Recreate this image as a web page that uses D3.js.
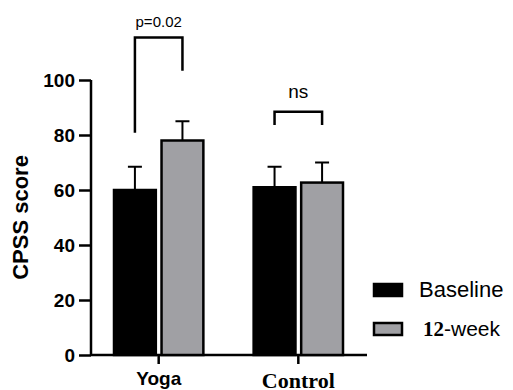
<!DOCTYPE html>
<html>
<head>
<meta charset="utf-8">
<script src="https://cdn.jsdelivr.net/npm/d3@7"></script>
<style>
  body { margin: 0; background: #fff; }
</style>
</head>
<body>
<div id="chart-area"></div>
<script>
// data
const groups = ["Yoga", "Control"]
const seriesNames = ["Baseline", "12-week"]
const baseline = [60, 61]
const week12 = [78, 62.7]
const baselineErr = [8.5, 7.5]
const week12Err = [7, 7.3]
const yTicks = [0, 20, 40, 60, 80, 100]
const sigLabels = ["p=0.02", "ns"]

const W = 513, H = 390
const colors = { "Baseline": "#000000", "12-week": "#a0a0a4" }
const SANS = "Arial, 'Liberation Sans', sans-serif"
const SERIF = "'Liberation Serif', 'Times New Roman', serif"

const svg = d3.select("#chart-area").append("svg")
  .attr("width", W)
  .attr("height", H)
  .style("font-family", SANS)

// scales
const x0 = d3.scaleBand().domain(groups).range([114, 343]).paddingInner(0.36).paddingOuter(0)
const x1 = d3.scaleBand().domain(seriesNames).range([0, x0.bandwidth()]).paddingInner(0.12)
const y = d3.scaleLinear().domain([0, 100]).range([355, 80])

// axes
const yAxis = svg.append("g")
  .attr("transform", "translate(91,0)")
  .call(d3.axisLeft(y).tickValues(yTicks).tickSize(12).tickPadding(4))
yAxis.select(".domain").attr("stroke-width", 2.5).attr("d", `M0,${y(100)}V${y(0)}`)
yAxis.selectAll(".tick line").attr("stroke-width", 2.5)
yAxis.selectAll(".tick text")
  .attr("fill", "#000")
  .style("font-size", "19px").style("font-weight", "bold").style("font-family", SANS)

const xAxis = svg.append("g")
  .attr("transform", `translate(0,${y(0)})`)
  .call(d3.axisBottom(x0).tickSize(9).tickPadding(8))
xAxis.select(".domain").attr("stroke-width", 2.5).attr("d", `M91,0H367`)
xAxis.selectAll(".tick line").attr("stroke-width", 2.5)
// the group labels use two different typefaces in the original
xAxis.selectAll(".tick text")
  .attr("fill", "#000")
  .style("font-weight", "bold")
  .style("font-size", d => d === "Yoga" ? "19px" : "22px")
  .style("font-family", d => d === "Yoga" ? SANS : SERIF)

// y label
svg.append("text")
  .attr("transform", `translate(28,${(y(0) + y(100)) / 2}) rotate(-90)`)
  .attr("text-anchor", "middle")
  .style("font-size", "22px")
  .style("font-weight", "bold")
  .text("CPSS score")

// bars
const rows = groups.map((g, i) => [
  { group: g, key: "Baseline", value: baseline[i], err: baselineErr[i] },
  { group: g, key: "12-week", value: week12[i], err: week12Err[i] }
])

const gGroup = svg.selectAll(".grp").data(rows).enter().append("g")
  .attr("class", "grp")
  .attr("transform", d => `translate(${x0(d[0].group)},0)`)

// error bars (drawn behind bars)
gGroup.selectAll(".err").data(d => d).enter().append("path")
  .attr("class", "err")
  .attr("fill", "none")
  .attr("stroke", "#000")
  .attr("stroke-width", 2)
  .attr("d", d => {
    const cx = x1(d.key) + x1.bandwidth() / 2
    return `M${cx},${y(d.value)}V${y(d.value + d.err)}M${cx - 7},${y(d.value + d.err)}H${cx + 7}`
  })

gGroup.selectAll("rect").data(d => d).enter().append("rect")
  .attr("x", d => x1(d.key))
  .attr("y", d => y(d.value))
  .attr("width", x1.bandwidth())
  .attr("height", d => y(0) - y(d.value))
  .attr("fill", d => colors[d.key])
  .attr("stroke", "#000")
  .attr("stroke-width", 2.5)

// significance brackets
const brackets = [
  { group: "Yoga", label: sigLabels[0], top: 115.5, left: 80.8, right: 103.4, size: 15, dy: 10 },
  { group: "Control", label: sigLabels[1], top: 88.5, left: 83.6, right: 83.6, size: 19, dy: 14 }
]
brackets.forEach(b => {
  const cxa = x0(b.group) + x1("Baseline") + x1.bandwidth() / 2
  const cxb = x0(b.group) + x1("12-week") + x1.bandwidth() / 2
  svg.append("path")
    .attr("fill", "none")
    .attr("stroke", "#000")
    .attr("stroke-width", 2.5)
    .attr("d", `M${cxa},${y(b.left)}V${y(b.top)}H${cxb}V${y(b.right)}`)
  svg.append("text")
    .attr("x", (cxa + cxb) / 2)
    .attr("y", y(b.top) - b.dy)
    .attr("text-anchor", "middle")
    .style("font-size", b.size + "px")
    .text(b.label)
})

// legend
const legend = svg.append("g").attr("transform", "translate(374,284)")
seriesNames.forEach((s, i) => {
  const row = legend.append("g").attr("transform", `translate(0,${i * 39})`)
  row.append("rect")
    .attr("width", 28).attr("height", 12)
    .attr("fill", colors[s])
    .attr("stroke", "#000").attr("stroke-width", 2.5)
  if (s === "12-week") {
    const t = row.append("text").attr("x", 49).attr("y", 13).style("font-size", "21px")
    t.append("tspan").style("font-weight", "bold").style("font-family", SERIF).text("12")
    t.append("tspan").text("-week")
  } else {
    row.append("text").attr("x", 45).attr("y", 13).style("font-size", "22px").text(s)
  }
})
</script>
</body>
</html>
